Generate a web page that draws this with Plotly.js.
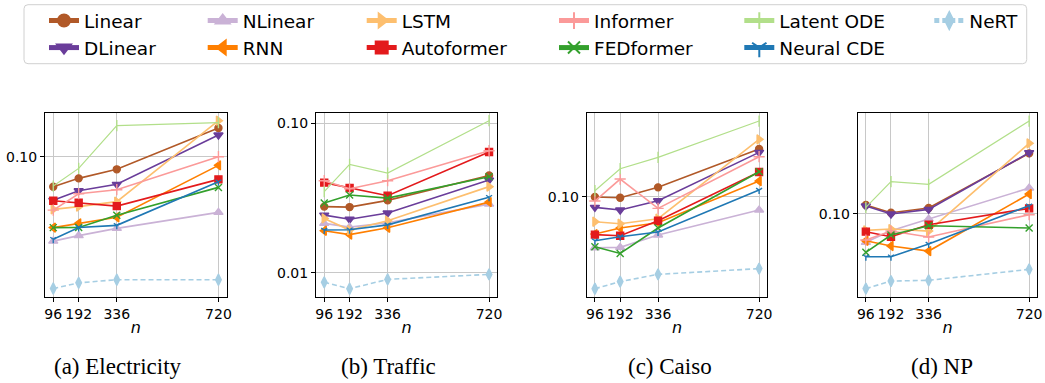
<!DOCTYPE html>
<html>
<head>
<meta charset="utf-8">
<script src="https://cdn.plot.ly/plotly-3.0.1.min.js"></script>
<style>
  html, body { margin: 0; padding: 0; background: #fff; }
  #chart { width: 1045px; height: 383px; }
</style>
</head>
<body>
<div id="chart"></div>
<script>
// Look-back window lengths on the x axis
const lookback = [96, 192, 336, 720];
const lookbackLabels = ['96', '192', '336', '720'];

// Model names, in plotting order
const models = ['Linear', 'DLinear', 'NLinear', 'RNN', 'LSTM', 'Autoformer',
                'Informer', 'FEDformer', 'Latent ODE', 'Neural CDE', 'NeRT'];

// Error per model (rows follow `models`), one table per dataset
const electricity = [
  [0.0630, 0.0716, 0.0823, 0.1556],
  [0.0510, 0.0592, 0.0653, 0.1397],
  [0.0272, 0.0296, 0.0331, 0.0424],
  [0.0335, 0.0358, 0.0393, 0.0875],
  [0.0444, 0.0463, 0.0500, 0.1742],
  [0.0507, 0.0492, 0.0467, 0.0705],
  [0.0439, 0.0565, 0.0601, 0.1000],
  [0.0335, 0.0336, 0.0405, 0.0623],
  [0.0636, 0.0835, 0.1613, 0.1690],
  [0.0280, 0.0336, 0.0347, 0.0680],
  [0.0131, 0.0143, 0.0150, 0.0150]
];
const traffic = [
  [0.0277, 0.0275, 0.0305, 0.0448],
  [0.0243, 0.0228, 0.0251, 0.0417],
  [0.0214, 0.0202, 0.0216, 0.0288],
  [0.0191, 0.0180, 0.0200, 0.0297],
  [0.0231, 0.0193, 0.0223, 0.0377],
  [0.0401, 0.0369, 0.0328, 0.0643],
  [0.0413, 0.0365, 0.0413, 0.0656],
  [0.0293, 0.0331, 0.0316, 0.0439],
  [0.0349, 0.0531, 0.0465, 0.1042],
  [0.0193, 0.0194, 0.0209, 0.0320],
  [0.00862, 0.00781, 0.00902, 0.00974]
];
const caiso = [
  [0.0995, 0.0985, 0.1155, 0.2086],
  [0.0848, 0.0814, 0.0940, 0.1981],
  [0.0455, 0.0458, 0.0554, 0.0814],
  [0.0562, 0.0617, 0.0670, 0.1273],
  [0.0680, 0.0659, 0.0712, 0.2421],
  [0.0557, 0.0548, 0.0691, 0.1463],
  [0.0935, 0.1313, 0.0835, 0.1853],
  [0.0462, 0.0417, 0.0617, 0.1470],
  [0.1097, 0.1540, 0.1834, 0.3211],
  [0.0507, 0.0540, 0.0580, 0.1108],
  [0.0242, 0.0270, 0.0302, 0.0330]
];
const np = [
  [0.1143, 0.1015, 0.1091, 0.2535],
  [0.1126, 0.0995, 0.1069, 0.2562],
  [0.0643, 0.0769, 0.0921, 0.1485],
  [0.0659, 0.0608, 0.0562, 0.1354],
  [0.0773, 0.0789, 0.0765, 0.2958],
  [0.0758, 0.0701, 0.0844, 0.1086],
  [0.0666, 0.0765, 0.0698, 0.0985],
  [0.0551, 0.0720, 0.0831, 0.0802],
  [0.1102, 0.1638, 0.1572, 0.4174],
  [0.0515, 0.0515, 0.0626, 0.1131],
  [0.0315, 0.0354, 0.0358, 0.0424]
];

const panelCaptions = ['(a) Electricity', '(b) Traffic', '(c) Caiso', '(d) NP'];
const yTickVals = [0.01, 0.1];
const yTickText = ['0.01', '0.10'];

// ---- styling -------------------------------------------------------------
const datasets = [electricity, traffic, caiso, np];
const styles = [
  { color: '#b15928', symbol: 'circle',             size: 7 },
  { color: '#6a3d9a', symbol: 'triangle-down',      size: 8 },
  { color: '#cab2d6', symbol: 'triangle-up',        size: 8 },
  { color: '#ff7f00', symbol: 'triangle-left',      size: 8 },
  { color: '#fdbf6f', symbol: 'triangle-right',     size: 8 },
  { color: '#e31a1c', symbol: 'square',             size: 7 },
  { color: '#fb9a99', symbol: 'cross-thin-open',    size: 8 },
  { color: '#33a02c', symbol: 'x-thin-open',        size: 7 },
  { color: '#b2df8a', symbol: 'line-ns-open',       size: 8, width: 1.2 },
  { color: '#1f78b4', symbol: 'y-down-open',        size: 5 },
  { color: '#a6cee3', symbol: 'diamond-tall',       size: 8, dash: '5px,3px' }
];
// legend columns (column-major, two rows)
const legendOf = ['legend', 'legend', 'legend2', 'legend2', 'legend3', 'legend3',
                  'legend4', 'legend4', 'legend5', 'legend5', 'legend6'];

const W = 1045, H = 383;
const plotBoxes = [[45, 226.7], [316, 497.3], [586.7, 767.3], [857.7, 1037.3]];
const plotTop = 112.7, plotBottom = 296.7;
const yRanges = [[-1.9375, -0.7054], [-2.1607, -0.9286], [-1.6696, -0.4375], [-1.5558, -0.3237]];

const traces = [];
datasets.forEach((ds, p) => {
  const ax = p === 0 ? '' : String(p + 1);
  models.forEach((name, m) => {
    const s = styles[m];
    traces.push({
      type: 'scatter', mode: 'lines+markers',
      x: lookback, y: ds[m], name: name,
      xaxis: 'x' + ax, yaxis: 'y' + ax,
      legendgroup: name, showlegend: p === 0, legend: legendOf[m],
      line: { color: s.color, width: s.width || 1.6, dash: s.dash || 'solid' },
      marker: { symbol: s.symbol, size: s.size, color: s.color,
                line: { color: s.color, width: 1.4 } },
      cliponaxis: false
    });
  });
});

const tickFont = { family: 'DejaVu Sans', size: 14, color: '#000' };
const layout = {
  width: W, height: H,
  margin: { l: 0, r: 0, t: 0, b: 0 },
  paper_bgcolor: '#fff', plot_bgcolor: '#fff',
  showlegend: true,
  annotations: [],
  shapes: [{
    type: 'path', xref: 'paper', yref: 'paper', layer: 'below',
    path: roundedRect(24 / W, 1 - 63.7 / H, 1026.7 / W, 1 - 4.7 / H, 4),
    line: { color: '#d0d0d0', width: 1 }, fillcolor: '#fff'
  }]
};

function roundedRect(x0, y0, x1, y1, r) {
  const rx = r / W, ry = r / H;
  return `M${x0 + rx},${y1} L${x1 - rx},${y1} Q${x1},${y1} ${x1},${y1 - ry} ` +
         `L${x1},${y0 + ry} Q${x1},${y0} ${x1 - rx},${y0} L${x0 + rx},${y0} ` +
         `Q${x0},${y0} ${x0},${y0 + ry} L${x0},${y1 - ry} Q${x0},${y1} ${x0 + rx},${y1} Z`;
}

const legendX = [44, 202.7, 361.7, 554, 739.3, 929.3];
legendX.forEach((lx, i) => {
  const key = i === 0 ? 'legend' : 'legend' + (i + 1);
  layout[key] = {
    x: lx / W, xanchor: 'left', y: 1 - 2 / H, yanchor: 'top',
    orientation: 'v', bgcolor: 'rgba(0,0,0,0)', borderwidth: 0,
    font: { family: 'DejaVu Sans', size: 18.5, color: '#000' },
    itemsizing: 'constant', tracegroupgap: 0
  };
});

plotBoxes.forEach((box, p) => {
  const ax = p === 0 ? '' : String(p + 1);
  layout['xaxis' + ax] = {
    domain: [box[0] / W, box[1] / W],
    anchor: 'y' + ax,
    range: [64.8, 751.2],
    tickmode: 'array', tickvals: lookback, ticktext: lookbackLabels,
    ticks: 'outside', ticklen: 4, tickwidth: 1, tickcolor: '#000',
    showgrid: true, gridcolor: '#c8c8c8', gridwidth: 1,
    zeroline: false, showline: true, linecolor: '#000', linewidth: 1, mirror: true,
    tickfont: tickFont,
    title: { text: '<i>n</i>', font: { family: 'DejaVu Sans', size: 16, color: '#000' }, standoff: 1 }
  };
  layout['yaxis' + ax] = {
    domain: [1 - plotBottom / H, 1 - plotTop / H],
    anchor: 'x' + ax,
    type: 'log', range: yRanges[p],
    tickmode: 'array', tickvals: yTickVals, ticktext: yTickText,
    ticks: 'outside', ticklen: 4, tickwidth: 1, tickcolor: '#000',
    showgrid: true, gridcolor: '#c8c8c8', gridwidth: 1,
    zeroline: false, showline: true, linecolor: '#000', linewidth: 1, mirror: true,
    tickfont: tickFont
  };
});

const captionX = [118, 388, 670, 942];
panelCaptions.forEach((text, p) => {
  layout.annotations.push({
    text: text, xref: 'paper', yref: 'paper',
    x: captionX[p] / W, y: 1 - 366 / H, xanchor: 'center', yanchor: 'middle',
    showarrow: false,
    font: { family: 'Liberation Serif', size: 23, color: '#000' }
  });
});

Plotly.newPlot('chart', traces, layout, { displayModeBar: false, staticPlot: true });
</script>
</body>
</html>
